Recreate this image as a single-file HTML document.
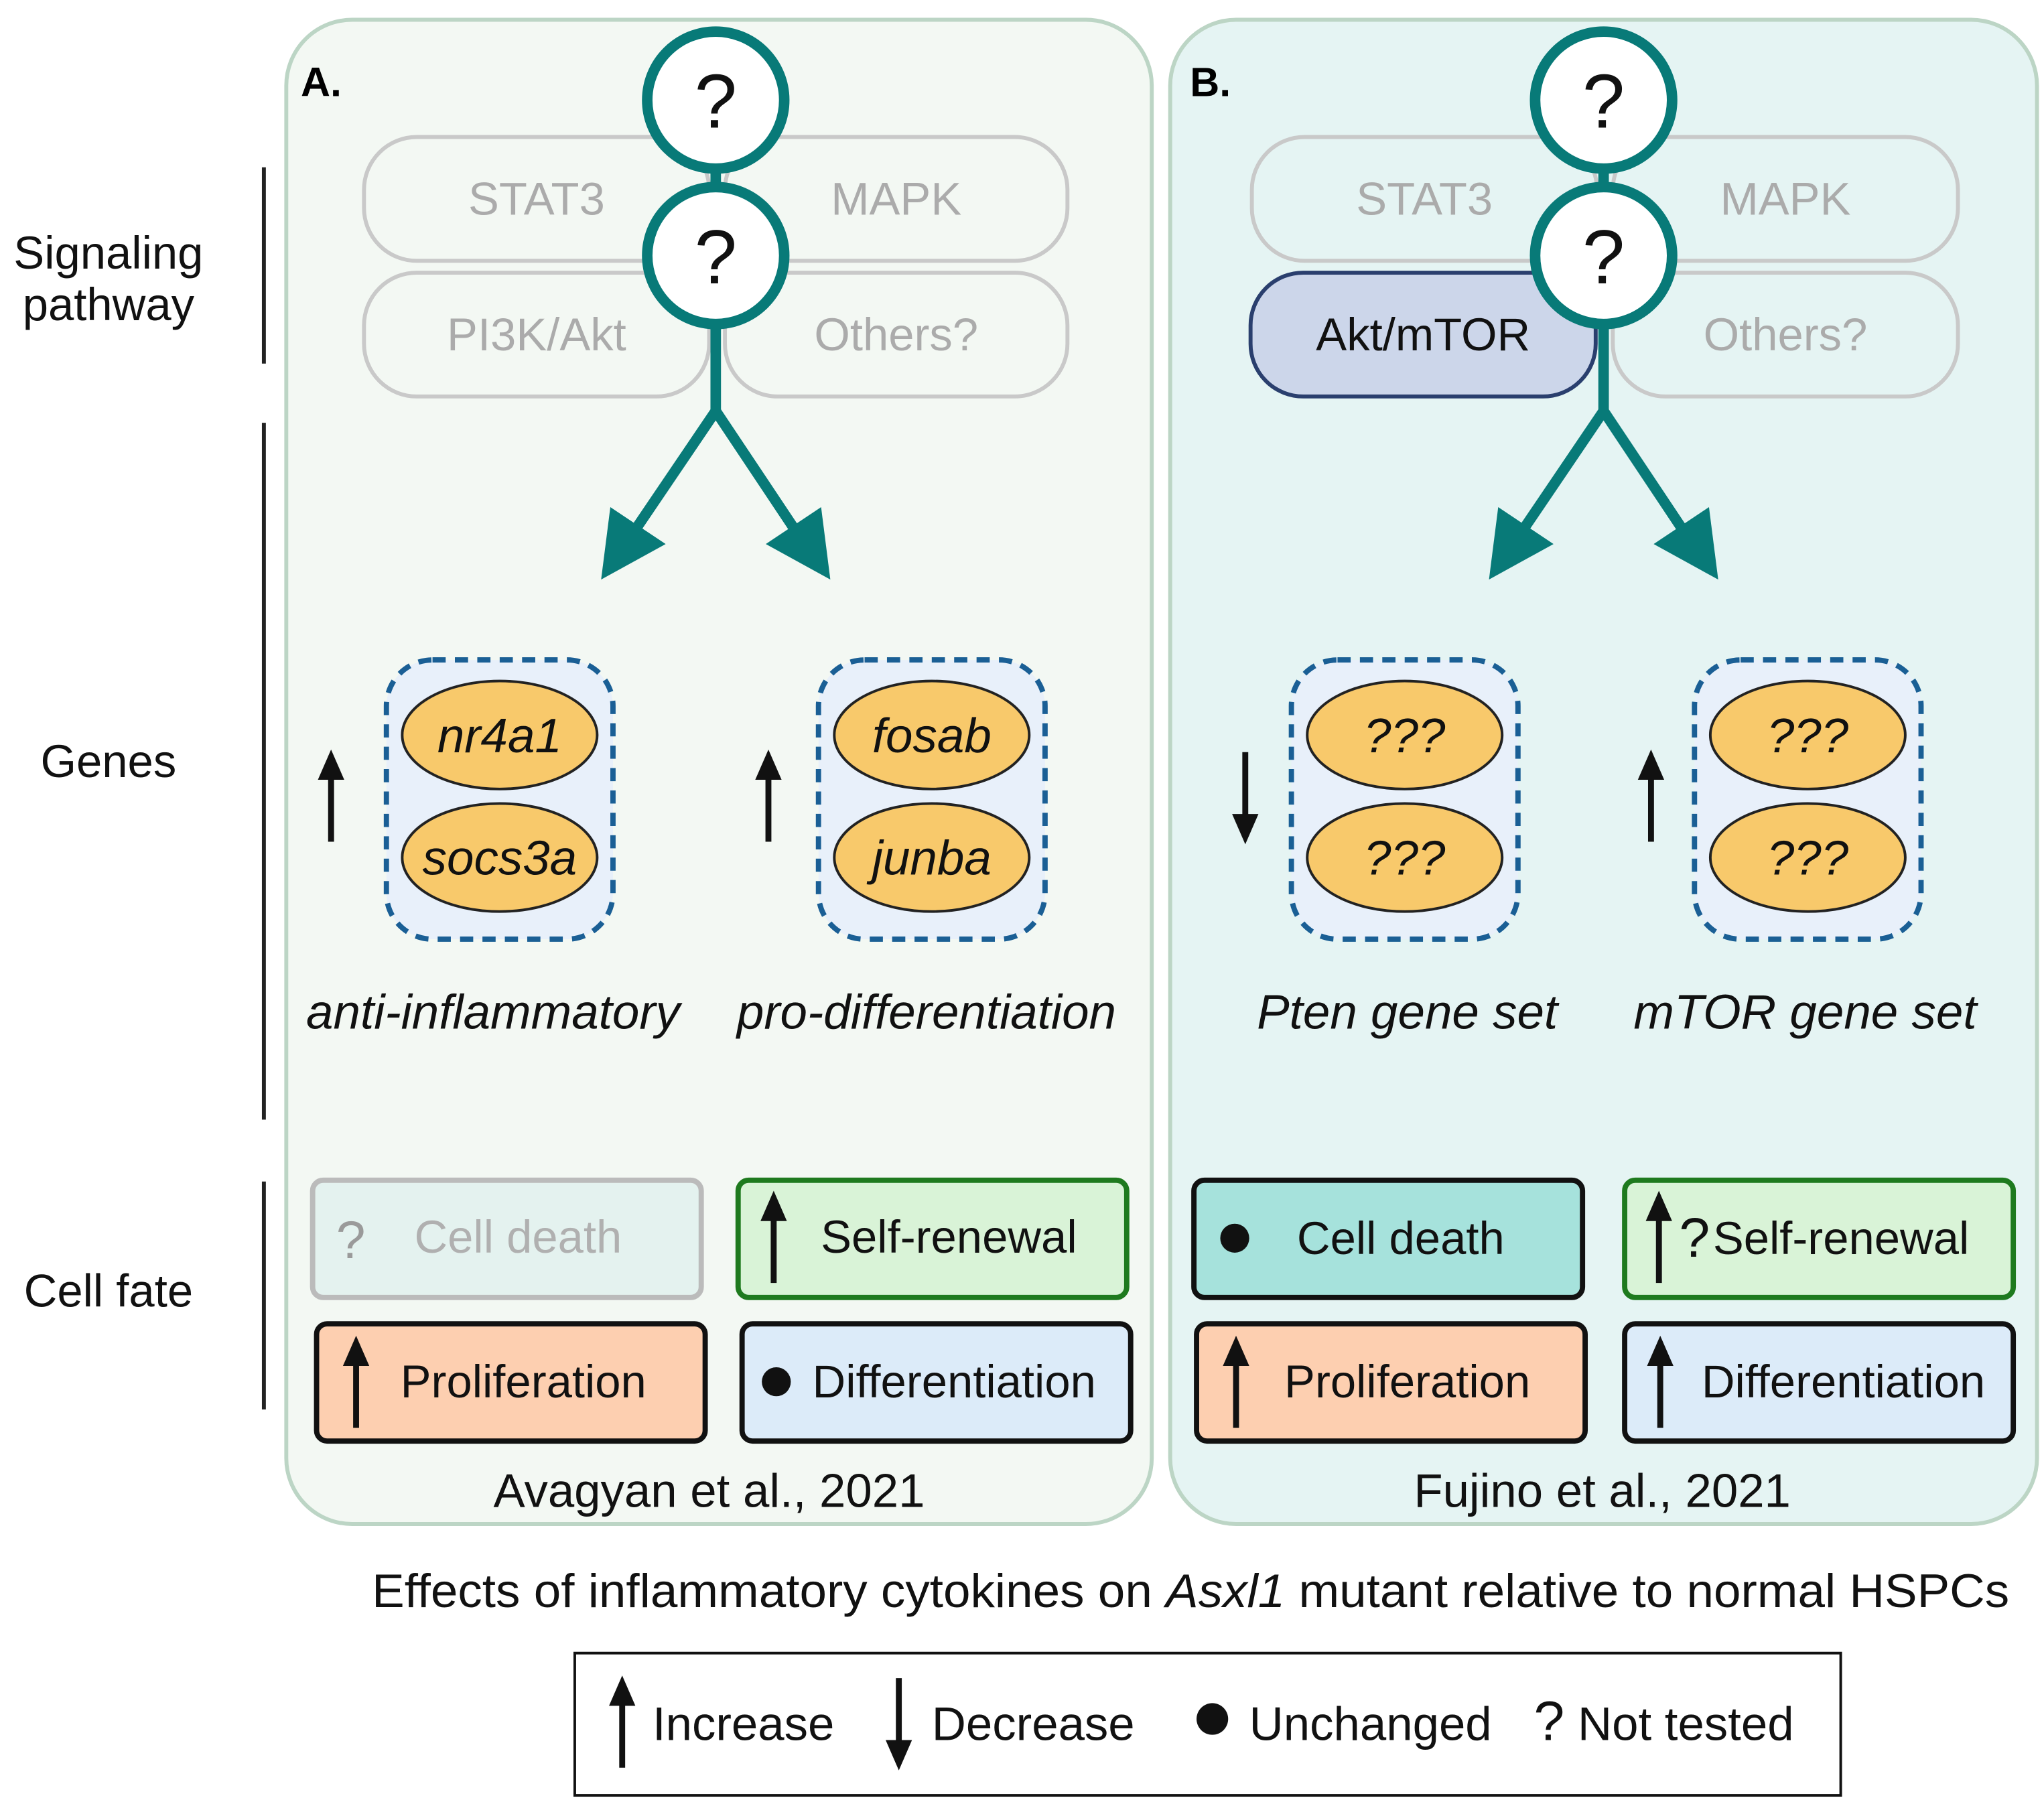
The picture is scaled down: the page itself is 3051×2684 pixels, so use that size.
<!DOCTYPE html>
<html><head><meta charset="utf-8"><style>
html,body{margin:0;padding:0;background:#fff;}
svg{display:block;}
text{font-family:"Liberation Sans",sans-serif;}
</style></head><body>
<svg width="3051" height="2684" viewBox="0 0 1551 1365" xmlns="http://www.w3.org/2000/svg">
<defs>
<g id="up"><line x1="0" y1="-18" x2="0" y2="34" stroke="#111" stroke-width="4.5"/><polygon points="0,-36 -10,-13 10,-13" fill="#111"/></g>
<g id="down"><line x1="0" y1="-34" x2="0" y2="18" stroke="#111" stroke-width="4.5"/><polygon points="0,36 -10,13 10,13" fill="#111"/></g>
</defs>
<rect width="1551" height="1365" fill="#fff"/>
<g font-size="35" fill="#111" text-anchor="middle">
<text x="82" y="204">Signaling</text><text x="82" y="243">pathway</text>
<text x="82" y="590">Genes</text>
<text x="82" y="992">Cell fate</text>
</g>
<g stroke="#222" stroke-width="3">
<line x1="200" y1="127" x2="200" y2="276"/><line x1="200" y1="321" x2="200" y2="850"/><line x1="200" y1="897" x2="200" y2="1070"/>
</g>
<rect x="217" y="15" width="657" height="1142" rx="50" fill="#f3f8f3" stroke="#bcd5c5" stroke-width="3"/>
<rect x="888" y="15" width="658" height="1142" rx="50" fill="#e5f4f3" stroke="#bcd5c5" stroke-width="3"/>
<text x="228" y="73" font-size="31" font-weight="bold">A.</text>
<text x="903" y="73" font-size="31" font-weight="bold">B.</text>

<g fill="none" stroke="#c9c9c9" stroke-width="3">
<rect x="276" y="104" width="262" height="94" rx="40"/>
<rect x="550" y="104" width="260" height="94" rx="40"/>
<rect x="276" y="207" width="262" height="94" rx="40"/>
<rect x="550" y="207" width="260" height="94" rx="40"/>
<rect x="950" y="104" width="262" height="94" rx="40"/>
<rect x="1224" y="104" width="262" height="94" rx="40"/>
<rect x="1224" y="207" width="262" height="94" rx="40"/>
</g>
<rect x="949" y="207" width="262" height="94" rx="40" fill="#ccd6ea" stroke="#2a3f6e" stroke-width="3"/>
<g font-size="35" fill="#ababab" text-anchor="middle">
<text x="407" y="163">STAT3</text><text x="680" y="163">MAPK</text>
<text x="407" y="266">PI3K/Akt</text><text x="680" y="266">Others?</text>
<text x="1081" y="163">STAT3</text><text x="1355" y="163">MAPK</text>
<text x="1355" y="266">Others?</text>
</g>
<text x="1080" y="266" font-size="35" fill="#111" text-anchor="middle">Akt/mTOR</text>

<g stroke="#087a78" stroke-width="8" fill="none">
<line x1="543" y1="120" x2="543" y2="150"/>
<polyline points="543,240 543,312"/>
<polyline points="480,405 543,312 605,405"/>
<line x1="1217" y1="120" x2="1217" y2="150"/>
<polyline points="1217,240 1217,312"/>
<polyline points="1154,405 1217,312 1279,405"/>
</g>
<g fill="#087a78">
<polygon points="456,440 463,385 505,413"/>
<polygon points="630,440 623,385 581,413"/>
<polygon points="1130,440 1137,385 1179,413"/>
<polygon points="1304,440 1297,385 1255,413"/>
</g>
<g fill="#fff" stroke="#087a78" stroke-width="8">
<circle cx="543" cy="76" r="52"/><circle cx="543" cy="194" r="52"/>
<circle cx="1217" cy="76" r="52"/><circle cx="1217" cy="194" r="52"/>
</g>
<g font-size="58" fill="#111" text-anchor="middle">
<text x="543" y="97">?</text><text x="543" y="215">?</text>
<text x="1217" y="97">?</text><text x="1217" y="215">?</text>
</g>

<g fill="#e8f0fa" stroke="#1a5f95" stroke-width="4" stroke-dasharray="10,7">
<rect x="293" y="501" width="172" height="212" rx="35"/>
<rect x="621" y="501" width="172" height="212" rx="35"/>
<rect x="980" y="501" width="172" height="212" rx="35"/>
<rect x="1286" y="501" width="172" height="212" rx="35"/>
</g>
<g fill="#f8c96b" stroke="#222" stroke-width="2">
<ellipse cx="379" cy="558" rx="74" ry="41"/><ellipse cx="379" cy="651" rx="74" ry="41"/>
<ellipse cx="707" cy="558" rx="74" ry="41"/><ellipse cx="707" cy="651" rx="74" ry="41"/>
<ellipse cx="1066" cy="558" rx="74" ry="41"/><ellipse cx="1066" cy="651" rx="74" ry="41"/>
<ellipse cx="1372" cy="558" rx="74" ry="41"/><ellipse cx="1372" cy="651" rx="74" ry="41"/>
</g>
<g font-size="37" font-style="italic" fill="#111" text-anchor="middle">
<text x="379" y="571">nr4a1</text><text x="379" y="664">socs3a</text>
<text x="707" y="571">fosab</text><text x="707" y="664">junba</text>
<text x="1066" y="571">???</text><text x="1066" y="664">???</text>
<text x="1372" y="571">???</text><text x="1372" y="664">???</text>
<text x="374" y="781">anti-inflammatory</text>
<text x="703" y="781">pro-differentiation</text>
<text x="1068" y="781">Pten gene set</text>
<text x="1370" y="781">mTOR gene set</text>
</g>
<use href="#up" x="251" y="605"/>
<use href="#up" x="583" y="605"/>
<use href="#down" x="945" y="605"/>
<use href="#up" x="1253" y="605"/>

<rect x="237" y="896" width="295" height="89" rx="8" fill="#e4f2ef" stroke="#bbbbbb" stroke-width="4"/>
<rect x="560" y="896" width="295" height="89" rx="8" fill="#d9f3d7" stroke="#1e7a1e" stroke-width="4"/>
<rect x="240" y="1005" width="295" height="89" rx="8" fill="#fdcfb0" stroke="#111" stroke-width="4"/>
<rect x="563" y="1005" width="295" height="89" rx="8" fill="#dcebf9" stroke="#111" stroke-width="4"/>
<text x="266" y="955" font-size="40" fill="#9a9a9a" text-anchor="middle">?</text>
<g font-size="35" text-anchor="middle">
<text x="393" y="951" fill="#b0b0b0">Cell death</text>
<text x="720" y="951" fill="#111">Self-renewal</text>
<text x="397" y="1061" fill="#111">Proliferation</text>
<text x="724" y="1061" fill="#111">Differentiation</text>
</g>
<use href="#up" x="587" y="940"/>
<use href="#up" x="270" y="1050"/>
<circle cx="589" cy="1049" r="11" fill="#111"/>
<text x="538" y="1144" font-size="36" fill="#111" text-anchor="middle">Avagyan et al., 2021</text>

<rect x="906" y="896" width="295" height="89" rx="8" fill="#a6e2dc" stroke="#111" stroke-width="4"/>
<rect x="1233" y="896" width="295" height="89" rx="8" fill="#d9f3d7" stroke="#1e7a1e" stroke-width="4"/>
<rect x="908" y="1005" width="295" height="89" rx="8" fill="#fdcfb0" stroke="#111" stroke-width="4"/>
<rect x="1233" y="1005" width="295" height="89" rx="8" fill="#dcebf9" stroke="#111" stroke-width="4"/>
<circle cx="937" cy="940" r="11" fill="#111"/>
<use href="#up" x="1259" y="940"/>
<text x="1286" y="954" font-size="42" fill="#111" text-anchor="middle">?</text>
<use href="#up" x="938" y="1050"/>
<use href="#up" x="1260" y="1050"/>
<g font-size="35" fill="#111" text-anchor="middle">
<text x="1063" y="952">Cell death</text>
<text x="1300" y="952" text-anchor="start">Self-renewal</text>
<text x="1068" y="1061">Proliferation</text>
<text x="1399" y="1061">Differentiation</text>
<text x="1216" y="1144" font-size="36">Fujino et al., 2021</text>
</g>
<text x="282" y="1220" font-size="36" fill="#111" textLength="1243" lengthAdjust="spacingAndGlyphs">Effects of inflammatory cytokines on <tspan font-style="italic">Asxl1</tspan> mutant relative to normal HSPCs</text>

<rect x="436" y="1255" width="961" height="108" fill="#fff" stroke="#111" stroke-width="2"/>
<use href="#up" x="472" y="1308"/>
<use href="#down" x="682" y="1308"/>
<circle cx="920" cy="1305" r="12" fill="#111"/>
<g font-size="36" fill="#111">
<text x="495" y="1321">Increase</text>
<text x="707" y="1321">Decrease</text>
<text x="948" y="1321">Unchanged</text>
<text x="1164" y="1321"><tspan font-size="42">?</tspan> Not tested</text>
</g>
</svg>
</body></html>
